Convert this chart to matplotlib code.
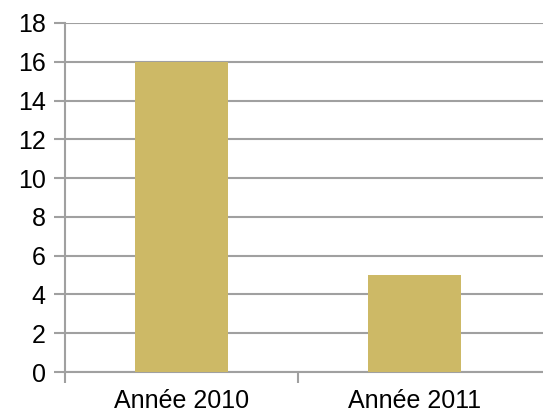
import matplotlib.pyplot as plt

categories = ["Année 2010", "Année 2011"]
values = [16, 5]

plt.rcParams['font.family'] = ['Liberation Sans', 'DejaVu Sans']

fig = plt.figure(figsize=(5.43, 4.13), dpi=100)
W, H = 543, 413
x0, x1 = 65, 543
y0, y1 = 372, 23
ax = fig.add_axes([x0 / W, 1 - y0 / H, (x1 - x0) / W, (y0 - y1) / H])

unit = 233.0
pos = list(range(len(categories)))
ax.bar(pos, values, width=0.4, color="#CDB966", zorder=3)

ax.set_xlim(-0.5, -0.5 + (x1 - x0) / unit)
ax.set_ylim(0, 18)
ax.set_yticks(range(0, 19, 2))
ax.yaxis.grid(True, color="#A0A0A0", linewidth=1.5, zorder=0)

ax.set_xticks(pos)
ax.set_xticklabels(categories, fontsize=18)
ax.set_xticks([-0.5, 0.5], minor=True)
ax.tick_params(axis="x", which="major", length=0, pad=12)
ax.tick_params(axis="x", which="minor", length=8, width=1.5, color="#A0A0A0")
ax.tick_params(axis="y", labelsize=18, length=8, width=1.5, color="#A0A0A0", pad=6)

for s in ["top", "right"]:
    ax.spines[s].set_visible(False)
for s in ["left", "bottom"]:
    ax.spines[s].set_color("#A0A0A0")
    ax.spines[s].set_linewidth(1.5)

fig.savefig("out.png", dpi=100)
